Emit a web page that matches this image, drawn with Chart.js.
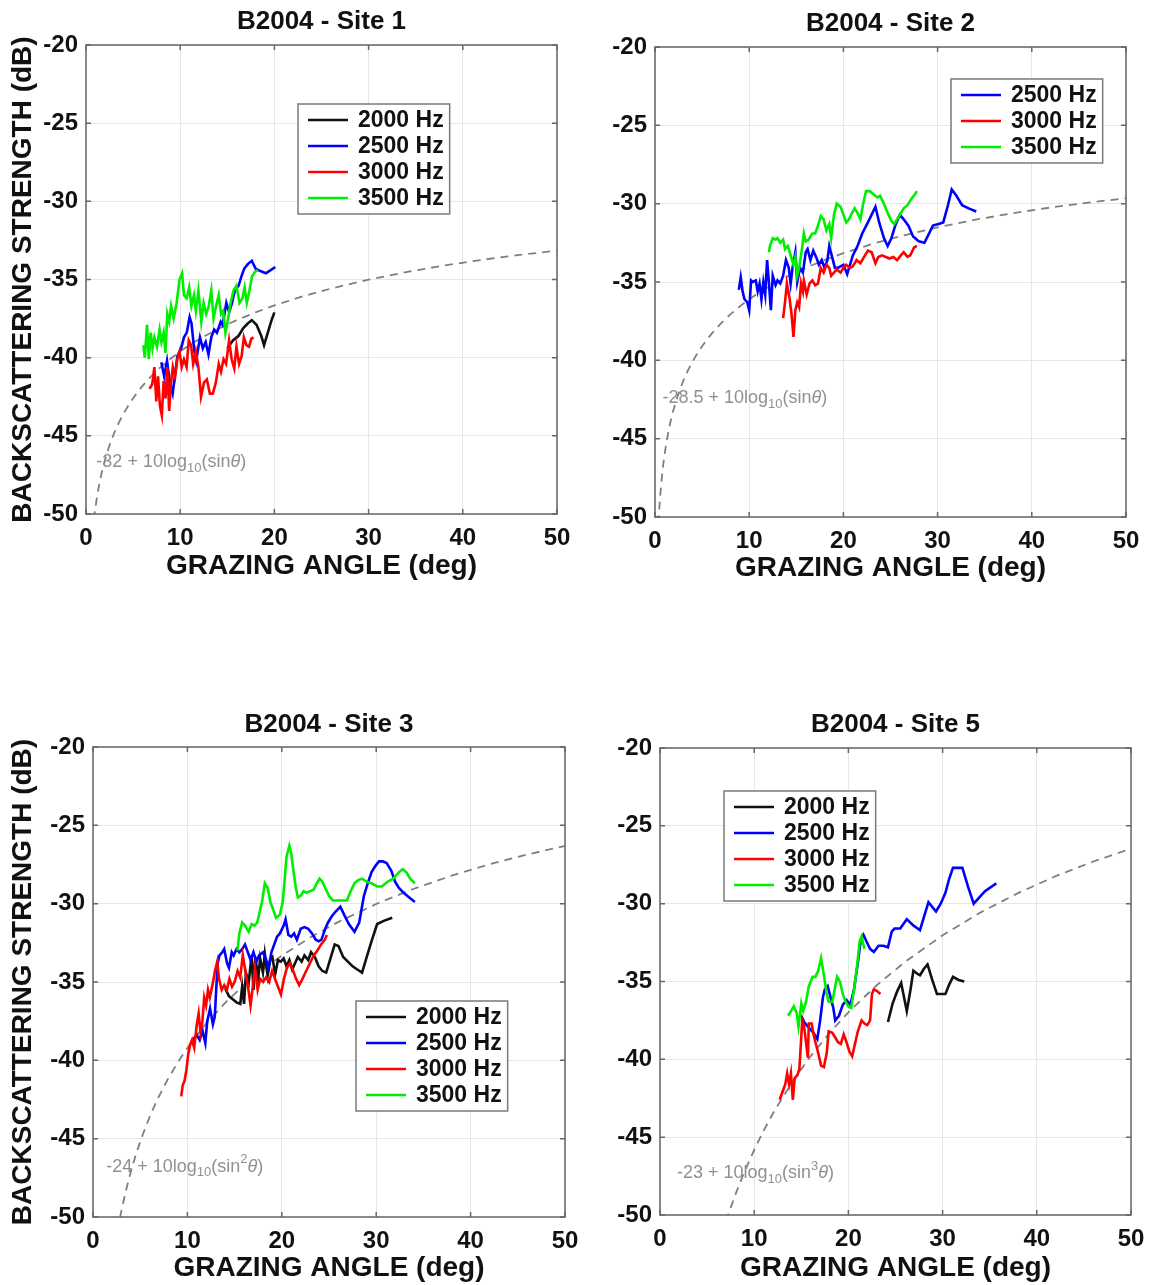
<!DOCTYPE html>
<html>
<head>
<meta charset="utf-8">
<title>B2004 backscattering strength vs grazing angle</title>
<script src="https://cdn.jsdelivr.net/npm/chart.js@4/dist/chart.umd.min.js"></script>
<style>
  html, body { margin: 0; padding: 0; background: #fff; }
  body { width: 1151px; height: 1285px; position: relative; overflow: hidden; }
  canvas { position: absolute; }
</style>
</head>
<body>
<canvas id="site1" width="585" height="600" style="left:0;top:0"></canvas>
<canvas id="site2" width="571" height="600" style="left:580px;top:0"></canvas>
<canvas id="site3" width="592" height="595" style="left:0;top:690px"></canvas>
<canvas id="site5" width="578" height="595" style="left:580px;top:690px"></canvas>
<script>
// measured curves, [grazing angle (deg), backscattering strength (dB)]
const site1Hz2000 = [[15.0,-39.4],[15.6,-38.9],[16.2,-38.6],[16.7,-38.1],[17.2,-37.8],[17.6,-37.6],[18.1,-37.9],[18.6,-38.6],[18.9,-39.2],[19.3,-38.4],[19.7,-37.6],[20.0,-37.1]];
const site1Hz2500 = [[8.0,-40.3],[8.3,-41.2],[8.6,-40.2],[8.9,-41.6],[9.2,-42.3],[9.7,-39.9],[10.1,-39.4],[10.4,-38.7],[10.7,-38.4],[11.0,-37.4],[11.2,-37.8],[11.5,-39.6],[11.7,-40.2],[12.1,-38.7],[12.4,-39.4],[12.7,-39.0],[13.0,-39.8],[13.3,-38.7],[13.6,-38.2],[13.9,-38.4],[14.3,-37.7],[14.5,-37.9],[14.9,-36.5],[15.2,-37.1],[15.5,-36.5],[15.8,-35.7],[16.2,-35.4],[16.5,-34.8],[16.8,-34.3],[17.2,-34.0],[17.6,-33.8],[18.0,-34.3],[18.3,-34.4],[18.7,-34.5],[19.1,-34.6],[19.6,-34.4],[20.1,-34.2]];
const site1Hz3000 = [[6.75,-42.0],[7.03,-41.7],[7.26,-40.6],[7.46,-42.8],[7.65,-41.2],[7.85,-43.1],[8.05,-43.7],[8.24,-41.5],[8.44,-42.6],[8.63,-40.6],[8.83,-43.4],[9.03,-41.6],[9.22,-40.6],[9.46,-41.2],[9.69,-40.1],[9.93,-39.6],[10.16,-40.6],[10.40,-40.1],[10.68,-40.6],[10.91,-38.9],[11.15,-39.2],[11.38,-40.4],[11.66,-39.6],[11.93,-40.6],[12.21,-42.5],[12.52,-41.6],[12.83,-41.4],[13.15,-42.3],[13.46,-42.3],[13.78,-41.6],[14.09,-40.4],[14.33,-40.9],[14.60,-40.1],[14.87,-40.4],[15.19,-38.9],[15.46,-40.1],[15.74,-40.7],[15.97,-39.3],[16.25,-40.4],[16.52,-39.9],[16.76,-38.7],[17.03,-39.2],[17.31,-39.3],[17.54,-38.8],[17.78,-38.7]];
const site1Hz3500 = [[6.08,-39.2],[6.24,-40.0],[6.48,-37.9],[6.67,-40.1],[6.87,-38.4],[7.06,-39.4],[7.26,-38.7],[7.54,-39.3],[7.81,-38.2],[8.01,-39.0],[8.24,-38.4],[8.44,-39.7],[8.63,-37.2],[8.83,-37.7],[9.03,-36.7],[9.30,-37.5],[9.62,-36.5],[9.93,-35.0],[10.20,-34.6],[10.40,-36.0],[10.68,-36.2],[10.95,-35.5],[11.19,-36.7],[11.46,-36.0],[11.66,-37.0],[11.93,-35.7],[12.24,-37.7],[12.48,-36.5],[12.76,-37.2],[13.03,-36.7],[13.30,-35.7],[13.54,-37.5],[13.81,-36.7],[14.09,-36.0],[14.33,-37.2],[14.56,-37.0],[14.80,-38.4],[15.03,-37.7],[15.35,-36.5],[15.66,-35.7],[15.97,-35.4],[16.29,-36.5],[16.60,-36.2],[16.84,-35.5],[17.07,-36.5],[17.35,-35.7],[17.62,-34.8],[17.94,-34.5],[18.25,-34.4]];

const site2Hz2500 = [[8.9,-35.5],[9.1,-34.7],[9.3,-35.6],[9.5,-36.1],[9.8,-36.3],[10.0,-36.8],[10.2,-34.9],[10.4,-35.0],[10.7,-34.9],[10.9,-35.6],[11.1,-35.1],[11.3,-36.1],[11.5,-35.0],[11.7,-35.8],[11.9,-33.6],[12.1,-35.1],[12.3,-36.8],[12.5,-34.6],[12.8,-35.2],[13.0,-34.9],[13.3,-35.1],[13.6,-34.6],[13.9,-33.6],[14.2,-34.1],[14.4,-35.1],[14.6,-34.1],[14.9,-33.1],[15.1,-35.0],[15.4,-34.1],[15.7,-34.4],[16.0,-33.1],[16.2,-32.9],[16.5,-33.6],[16.8,-33.0],[17.1,-33.4],[17.4,-33.9],[17.7,-33.6],[18.0,-34.1],[18.3,-33.6],[18.5,-32.7],[18.8,-33.4],[19.1,-34.1],[19.4,-34.1],[19.7,-34.0],[20.0,-33.9],[20.4,-34.5],[20.7,-33.9],[21.0,-33.3],[21.5,-32.7],[22.0,-31.9],[22.6,-31.2],[23.0,-30.7],[23.4,-30.2],[23.8,-31.2],[24.3,-32.2],[24.7,-32.7],[25.1,-32.2],[25.5,-31.4],[26.0,-30.7],[26.4,-31.0],[26.9,-31.4],[27.4,-32.1],[28.0,-32.4],[28.6,-32.5],[29.1,-31.9],[29.5,-31.4],[30.1,-31.3],[30.6,-31.2],[31.1,-30.1],[31.5,-29.1],[32.0,-29.5],[32.6,-30.1],[33.3,-30.3],[34.1,-30.5]];
const site2Hz3000 = [[13.6,-37.3],[13.8,-36.3],[14.0,-35.1],[14.3,-36.1],[14.5,-37.1],[14.7,-38.5],[14.9,-36.8],[15.1,-36.3],[15.3,-36.6],[15.5,-35.1],[15.7,-35.6],[15.8,-34.9],[16.1,-35.8],[16.4,-35.1],[16.7,-34.9],[17.0,-35.2],[17.3,-35.1],[17.6,-34.1],[17.9,-34.4],[18.2,-33.9],[18.5,-34.1],[18.7,-34.6],[19.0,-34.4],[19.3,-34.2],[19.7,-34.4],[20.0,-34.1],[20.3,-33.9],[20.7,-34.1],[21.0,-34.0],[21.4,-33.6],[21.8,-33.8],[22.2,-33.4],[22.6,-33.0],[23.0,-33.1],[23.4,-33.8],[23.7,-33.4],[24.1,-33.3],[24.5,-33.4],[24.9,-33.5],[25.3,-33.4],[25.7,-33.6],[26.1,-33.3],[26.4,-33.1],[26.8,-33.4],[27.1,-33.3],[27.5,-32.8],[27.8,-32.7]];
const site2Hz3500 = [[12.1,-33.1],[12.2,-32.7],[12.5,-32.2],[12.8,-32.3],[13.0,-32.2],[13.3,-32.5],[13.6,-32.3],[13.8,-32.9],[14.1,-32.7],[14.4,-33.3],[14.7,-33.9],[14.9,-33.4],[15.1,-34.6],[15.3,-34.1],[15.6,-32.9],[15.8,-31.9],[16.0,-32.4],[16.3,-32.3],[16.7,-31.9],[17.0,-31.9],[17.3,-31.4],[17.6,-30.8],[17.9,-31.0],[18.2,-31.7],[18.5,-31.3],[18.7,-32.2],[19.0,-30.7],[19.3,-30.0],[19.7,-30.2],[20.0,-30.7],[20.3,-31.2],[20.6,-31.0],[20.9,-30.6],[21.2,-30.3],[21.5,-30.6],[21.8,-31.0],[22.1,-30.0],[22.4,-29.2],[22.8,-29.2],[23.2,-29.4],[23.6,-29.6],[23.9,-29.5],[24.3,-30.0],[24.7,-30.6],[25.1,-31.1],[25.4,-31.3],[25.7,-31.0],[26.1,-30.6],[26.4,-30.3],[26.8,-30.1],[27.2,-29.7],[27.6,-29.4],[27.8,-29.2]];

const site3Hz2000 = [[14.0,-35.4],[14.4,-35.9],[14.8,-36.1],[15.2,-36.3],[15.6,-36.4],[15.8,-35.3],[16.0,-36.4],[16.2,-34.4],[16.5,-35.0],[16.8,-33.3],[17.0,-35.5],[17.2,-33.4],[17.5,-34.8],[17.7,-33.5],[18.0,-34.4],[18.2,-33.2],[18.5,-34.6],[18.8,-33.5],[19.0,-33.4],[19.3,-34.5],[19.6,-33.6],[19.9,-33.7],[20.2,-33.5],[20.5,-34.0],[20.8,-33.6],[21.1,-34.2],[21.4,-33.8],[21.7,-33.4],[22.1,-33.7],[22.4,-33.3],[22.8,-33.6],[23.1,-33.1],[23.5,-33.4],[23.9,-34.0],[24.3,-34.3],[24.7,-34.4],[25.1,-33.6],[25.6,-32.6],[26.0,-32.7],[26.5,-33.4],[27.0,-33.7],[27.5,-34.0],[28.0,-34.2],[28.5,-34.4],[29.0,-33.4],[29.5,-32.4],[30.1,-31.3],[30.8,-31.1],[31.7,-30.9]];
const site3Hz2500 = [[10.4,-38.9],[10.7,-38.6],[11.0,-38.4],[11.3,-38.7],[11.6,-38.1],[11.9,-38.9],[12.1,-37.5],[12.4,-36.7],[12.7,-37.7],[12.9,-37.2],[13.2,-33.8],[13.4,-33.3],[13.7,-33.1],[13.9,-32.9],[14.2,-33.8],[14.4,-34.1],[14.7,-33.1],[14.9,-33.3],[15.2,-32.9],[15.5,-33.1],[15.8,-32.9],[16.1,-32.6],[16.4,-33.1],[16.7,-33.6],[17.0,-33.1],[17.3,-33.7],[17.6,-33.3],[18.0,-33.1],[18.3,-33.5],[18.6,-34.1],[18.9,-33.1],[19.2,-32.6],[19.5,-32.1],[19.8,-31.9],[20.2,-31.4],[20.4,-31.0],[20.7,-32.0],[21.0,-32.1],[21.3,-31.9],[21.6,-32.3],[22.0,-31.6],[22.4,-31.5],[22.8,-31.6],[23.2,-31.9],[23.6,-32.3],[23.9,-32.4],[24.2,-32.3],[24.6,-31.6],[24.9,-31.2],[25.3,-30.8],[25.7,-30.5],[26.2,-30.2],[26.6,-30.7],[27.1,-31.3],[27.7,-31.8],[28.2,-31.2],[28.7,-29.5],[29.1,-28.7],[29.5,-28.0],[29.9,-27.6],[30.3,-27.3],[30.7,-27.3],[31.1,-27.4],[31.6,-27.9],[32.0,-28.6],[32.4,-29.0],[32.9,-29.3],[33.5,-29.6],[34.1,-29.9]];
const site3Hz3000 = [[9.35,-42.3],[9.50,-41.6],[9.70,-41.3],[9.90,-40.6],[10.09,-39.6],[10.29,-39.0],[10.49,-38.7],[10.72,-39.2],[11.00,-37.7],[11.19,-37.0],[11.39,-38.2],[11.59,-37.5],[11.78,-36.0],[11.98,-36.5],[12.18,-35.5],[12.37,-36.0],[12.65,-35.2],[12.92,-34.3],[13.16,-33.7],[13.35,-34.8],[13.63,-35.5],[13.90,-35.2],[14.18,-35.5],[14.45,-34.8],[14.73,-35.3],[15.00,-35.0],[15.32,-34.3],[15.59,-34.7],[15.87,-33.3],[16.14,-34.3],[16.42,-35.3],[16.69,-36.5],[16.93,-35.3],[17.16,-34.1],[17.44,-35.5],[17.71,-34.8],[18.03,-35.0],[18.34,-34.7],[18.66,-35.0],[18.97,-34.3],[19.28,-34.8],[19.60,-35.3],[19.91,-35.8],[20.23,-34.8],[20.54,-34.1],[20.86,-33.8],[21.21,-34.3],[21.52,-34.8],[21.84,-35.2],[22.19,-34.8],[22.58,-34.3],[22.98,-33.8],[23.37,-33.3],[23.76,-33.0],[24.16,-32.6],[24.55,-32.3],[24.78,-32.0]];
const site3Hz3500 = [[15.3,-33.0],[15.5,-31.9],[15.8,-31.2],[16.1,-31.4],[16.5,-31.8],[16.8,-31.3],[17.1,-31.4],[17.4,-31.2],[17.9,-29.9],[18.2,-28.7],[18.5,-29.0],[18.8,-29.9],[19.1,-30.4],[19.4,-30.9],[19.8,-30.7],[20.1,-29.9],[20.3,-28.5],[20.5,-27.0],[20.8,-26.3],[21.0,-26.8],[21.3,-28.2],[21.5,-29.0],[21.7,-29.6],[22.0,-29.5],[22.3,-29.2],[22.6,-29.3],[23.0,-29.2],[23.4,-29.1],[23.7,-28.7],[24.0,-28.4],[24.3,-28.6],[24.6,-29.0],[25.0,-29.5],[25.4,-29.8],[25.9,-29.8],[26.4,-29.8],[26.9,-29.8],[27.3,-29.2],[27.7,-28.7],[28.1,-28.5],[28.5,-28.4],[29.0,-28.6],[29.5,-28.7],[30.1,-28.9],[30.6,-28.9],[31.2,-28.6],[31.8,-28.4],[32.4,-28.0],[32.8,-27.8],[33.2,-28.0],[33.6,-28.4],[34.1,-28.7]];

const site5Hz2000 = [[24.2,-37.6],[24.7,-36.4],[25.2,-35.6],[25.6,-35.1],[25.9,-36.0],[26.2,-36.9],[26.6,-35.5],[26.9,-34.3],[27.3,-34.5],[27.6,-34.6],[28.0,-34.2],[28.4,-33.9],[28.9,-34.9],[29.4,-35.8],[29.8,-35.8],[30.3,-35.8],[30.7,-35.2],[31.1,-34.7],[31.7,-34.9],[32.3,-35.0]];
const site5Hz2500 = [[15.0,-37.2],[15.3,-37.6],[15.7,-37.9],[16.3,-38.3],[16.7,-38.7],[17.0,-37.5],[17.3,-36.0],[17.5,-35.5],[17.8,-35.3],[18.1,-36.0],[18.4,-36.7],[18.6,-37.5],[19.0,-37.2],[19.4,-36.5],[19.8,-36.2],[20.2,-36.5],[20.6,-35.5],[21.0,-33.8],[21.3,-32.4],[21.6,-32.0],[21.9,-32.4],[22.3,-32.9],[22.7,-33.1],[23.2,-32.7],[23.7,-32.7],[24.2,-32.8],[24.6,-31.8],[24.9,-31.6],[25.5,-31.6],[26.2,-31.0],[26.9,-31.4],[27.6,-31.7],[28.0,-30.9],[28.5,-29.9],[29.3,-30.5],[29.8,-30.0],[30.3,-29.3],[30.7,-28.4],[31.1,-27.7],[32.1,-27.7],[32.7,-28.9],[33.3,-30.0],[33.9,-29.6],[34.5,-29.2],[35.7,-28.7]];
const site5Hz3000 = [[12.7,-42.6],[13.0,-42.1],[13.3,-41.6],[13.5,-40.9],[13.7,-41.6],[13.9,-40.9],[14.1,-42.6],[14.3,-41.2],[14.6,-41.0],[14.8,-40.6],[15.1,-37.5],[15.3,-37.9],[15.5,-38.9],[15.7,-39.9],[15.8,-37.7],[16.1,-37.7],[16.3,-38.4],[16.5,-38.9],[16.8,-39.6],[17.1,-40.4],[17.4,-40.5],[17.7,-39.6],[17.9,-38.2],[18.3,-38.3],[18.6,-38.6],[18.9,-38.9],[19.2,-39.0],[19.5,-38.4],[19.8,-38.9],[20.1,-39.5],[20.4,-39.8],[20.7,-39.0],[21.0,-38.2],[21.4,-37.5],[21.7,-37.7],[22.0,-37.8],[22.3,-37.5],[22.5,-35.8],[22.7,-35.5],[23.0,-35.6],[23.4,-35.8]];
const site5Hz3500 = [[13.6,-37.2],[13.9,-36.9],[14.2,-36.6],[14.5,-37.0],[14.7,-37.9],[15.0,-36.4],[15.2,-36.9],[15.5,-36.3],[15.8,-35.3],[16.2,-34.7],[16.5,-34.7],[16.8,-34.3],[17.1,-33.5],[17.4,-34.6],[17.7,-35.8],[17.9,-36.3],[18.3,-36.3],[18.6,-35.3],[18.8,-34.7],[19.1,-35.0],[19.4,-35.8],[19.7,-36.3],[20.0,-36.6],[20.3,-36.7],[20.6,-35.5],[20.9,-34.1],[21.2,-32.4],[21.4,-32.1],[21.7,-32.9]];

const freqLabels = ['2000 Hz', '2500 Hz', '3000 Hz', '3500 Hz'];
const siteTitles = ['B2004 - Site 1', 'B2004 - Site 2', 'B2004 - Site 3', 'B2004 - Site 5'];
const siteSeries = [
  [site1Hz2000, site1Hz2500, site1Hz3000, site1Hz3500],
  [null, site2Hz2500, site2Hz3000, site2Hz3500],
  [site3Hz2000, site3Hz2500, site3Hz3000, site3Hz3500],
  [site5Hz2000, site5Hz2500, site5Hz3000, site5Hz3500]
];

// Lambert-type fits: level + 10log10(sin^n theta)
const modelLevels = [-32, -28.5, -24, -23];
const modelPowers = [1, 1, 2, 3];
const modelAngles = [0.3, 0.4, 0.5, 0.6, 0.7, 0.8, 0.9, 1, 1.2, 1.4, 1.6, 1.8, 2, 2.3, 2.6, 3, 3.5, 4, 4.5, 5, 5.5, 6, 6.5, 7, 7.5, 8, 9, 10, 11, 12, 14, 16, 18, 20, 23, 26, 30, 34, 38, 42, 46, 50];

const yAxisTitle = 'BACKSCATTERING STRENGTH (dB)';
const xAxisTitle = 'GRAZING ANGLE (deg)';

// ---- styling ----
const FONT = '"Liberation Sans", Arial, Helvetica, sans-serif';
const freqColors = ['#111111', '#0000ff', '#ff0000', '#00ee00'];
const frameColor = '#666666';

// plot box of each canvas (canvas pixels) and where the legend / label go
const panels = [
  { id: 'site1', w: 585, h: 600, area: { l: 86, t: 45, r: 557, b: 514 }, titleY: 22, xTitlePad: 20, yTitle: true,  legend: { left: 212, top: 59 }, labelAt: [1.1, -46.7] },
  { id: 'site2', w: 571, h: 600, area: { l: 75, t: 47, r: 546, b: 517 }, titleY: 24, xTitlePad: 18, yTitle: false, legend: { left: 296, top: 32 }, labelAt: [0.8, -42.4] },
  { id: 'site3', w: 592, h: 595, area: { l: 93, t: 57, r: 565, b: 527 }, titleY: 35, xTitlePad: 3,  yTitle: true,  legend: { left: 263, top: 254 }, labelAt: [1.4, -46.8] },
  { id: 'site5', w: 578, h: 595, area: { l: 80, t: 58, r: 551, b: 525 }, titleY: 35, xTitlePad: 3,  yTitle: false, legend: { left: 64, top: 43 }, labelAt: [1.8, -47.3] }
];

// axes box with inward tick marks, drawn over the curves like MATLAB does
const frameBox = {
  id: 'frameBox',
  afterDatasetsDraw(chart) {
    const { ctx, chartArea: a, scales } = chart;
    const tick = 5;
    ctx.save();
    ctx.strokeStyle = frameColor;
    ctx.lineWidth = 1.5;
    ctx.beginPath();
    scales.x.ticks.forEach(t => {
      const px = scales.x.getPixelForValue(t.value);
      ctx.moveTo(px, a.bottom); ctx.lineTo(px, a.bottom - tick);
      ctx.moveTo(px, a.top); ctx.lineTo(px, a.top + tick);
    });
    scales.y.ticks.forEach(t => {
      const py = scales.y.getPixelForValue(t.value);
      ctx.moveTo(a.left, py); ctx.lineTo(a.left + tick, py);
      ctx.moveTo(a.right, py); ctx.lineTo(a.right - tick, py);
    });
    ctx.stroke();
    ctx.strokeRect(a.left, a.top, a.right - a.left, a.bottom - a.top);
    ctx.restore();
  }
};

// boxed legend sitting inside the plot area
const boxLegend = {
  id: 'boxLegend',
  afterDraw(chart, args, opts) {
    const { ctx, chartArea: a } = chart;
    const items = chart.data.datasets.filter(d => d.inLegend);
    const rowH = 26;
    ctx.save();
    ctx.font = 'bold 23px ' + FONT;
    const textW = Math.max(...items.map(d => ctx.measureText(d.label).width));
    const x0 = a.left + opts.left, y0 = a.top + opts.top;
    const w = 60 + textW + 6, h = items.length * rowH + 6;
    ctx.fillStyle = '#ffffff';
    ctx.fillRect(x0, y0, w, h);
    ctx.strokeStyle = '#7a7a7a';
    ctx.lineWidth = 1.5;
    ctx.strokeRect(x0, y0, w, h);
    items.forEach((d, i) => {
      const cy = y0 + 3 + rowH * i + rowH / 2;
      ctx.strokeStyle = d.borderColor;
      ctx.lineWidth = 2.5;
      ctx.beginPath();
      ctx.moveTo(x0 + 10, cy);
      ctx.lineTo(x0 + 50, cy);
      ctx.stroke();
      ctx.fillStyle = '#111';
      ctx.textAlign = 'left';
      ctx.textBaseline = 'middle';
      ctx.fillText(d.label, x0 + 60, cy + 1);
    });
    ctx.restore();
  }
};

// formula label next to the dashed fit, with sub/superscripts
const modelLabel = {
  id: 'modelLabel',
  afterDatasetsDraw(chart, args, opts) {
    const { ctx, scales } = chart;
    let x = scales.x.getPixelForValue(opts.at[0]);
    const y = scales.y.getPixelForValue(opts.at[1]);
    const base = '18px ' + FONT, small = '13px ' + FONT, ital = 'italic 18px ' + FONT;
    const parts = [
      { t: opts.level + ' + 10log', f: base, dy: 0 },
      { t: '10', f: small, dy: 6 },
      { t: '(sin', f: base, dy: 0 }
    ];
    if (opts.power > 1) parts.push({ t: String(opts.power), f: small, dy: -7 });
    parts.push({ t: '\u03b8', f: ital, dy: 0 }, { t: ')', f: base, dy: 0 });
    ctx.save();
    ctx.fillStyle = '#909090';
    ctx.textAlign = 'left';
    ctx.textBaseline = 'middle';
    parts.forEach(p => {
      ctx.font = p.f;
      ctx.fillText(p.t, x, y + p.dy);
      x += ctx.measureText(p.t).width;
    });
    ctx.restore();
  }
};

const tickFont = { family: FONT, size: 24, weight: 'bold' };
const axisTitleFont = { family: FONT, size: 28, weight: 'bold', lineHeight: 1 };

function buildPanel(p, i) {
  const datasets = [];
  siteSeries[i].forEach((pts, k) => {
    if (!pts) return;
    datasets.push({
      label: freqLabels[k],
      data: pts.map(([x, y]) => ({ x, y })),
      borderColor: freqColors[k],
      borderWidth: 2.6,
      pointRadius: 0,
      tension: 0,
      order: 10 - k,
      inLegend: true
    });
  });
  const level = modelLevels[i], power = modelPowers[i];
  datasets.push({
    label: 'model',
    data: modelAngles.map(a => ({ x: a, y: level + 10 * Math.log10(Math.pow(Math.sin(a * Math.PI / 180), power)) })),
    borderColor: '#7f7f7f',
    borderWidth: 1.8,
    borderDash: [8, 6],
    pointRadius: 0,
    tension: 0,
    order: 20,
    inLegend: false
  });

  const titleTop = p.titleY - 13;
  const titleBottom = p.area.t - p.titleY - 13;

  return new Chart(document.getElementById(p.id), {
    type: 'line',
    data: { datasets },
    plugins: [frameBox, modelLabel, boxLegend],
    options: {
      responsive: false,
      animation: false,
      events: [],
      layout: { padding: { left: 0, top: 0, right: p.w - p.area.r, bottom: 0 } },
      plugins: {
        legend: { display: false },
        tooltip: { enabled: false },
        title: {
          display: true,
          text: siteTitles[i],
          fullSize: false,
          color: '#111',
          font: { family: FONT, size: 26, weight: 'bold', lineHeight: 1 },
          padding: { top: titleTop, bottom: titleBottom }
        },
        boxLegend: p.legend,
        modelLabel: { at: p.labelAt, level, power }
      },
      scales: {
        x: {
          type: 'linear',
          min: 0,
          max: 50,
          ticks: { stepSize: 10, font: tickFont, color: '#111', padding: 10, maxRotation: 0 },
          grid: { color: '#e6e6e6', drawTicks: false },
          border: { display: false },
          title: { display: true, text: xAxisTitle, color: '#111', font: axisTitleFont, padding: { top: 0, bottom: p.xTitlePad } },
          afterFit(scale) { scale.height = p.h - p.area.b; }
        },
        y: {
          type: 'linear',
          min: -50,
          max: -20,
          ticks: { stepSize: 5, font: tickFont, color: '#111', padding: 8 },
          grid: { color: '#e6e6e6', drawTicks: false },
          border: { display: false },
          title: { display: p.yTitle, text: yAxisTitle, color: '#111', font: axisTitleFont, padding: { top: 9, bottom: 0 } },
          afterFit(scale) { scale.width = p.area.l; }
        }
      }
    }
  });
}

panels.forEach(buildPanel);
</script>
</body>
</html>
